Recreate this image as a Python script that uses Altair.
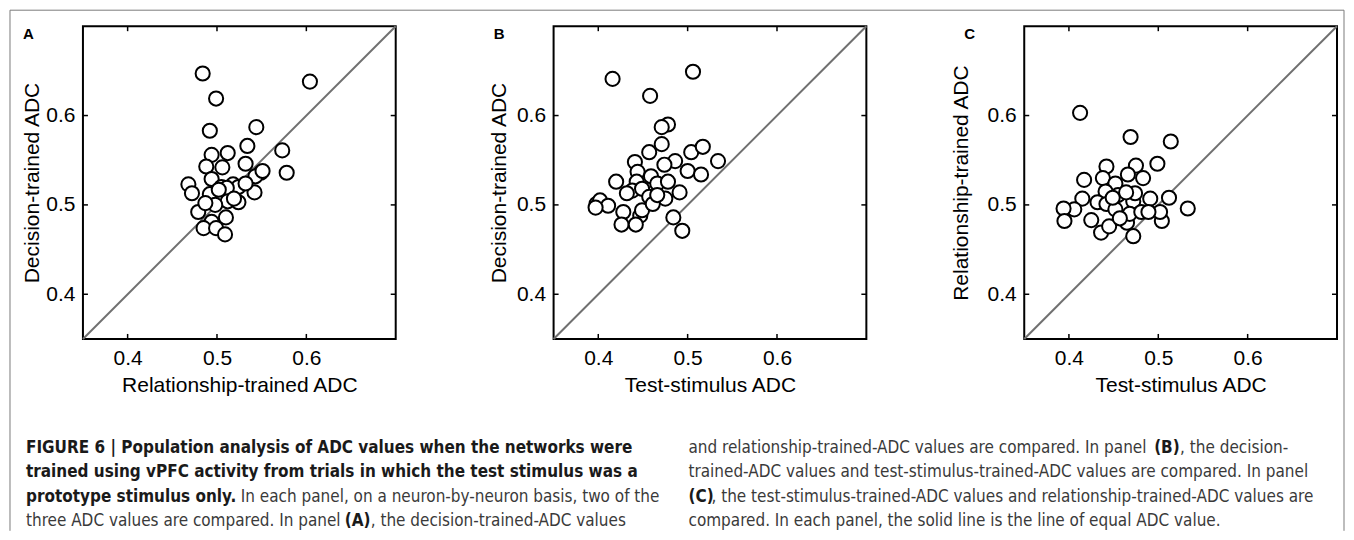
import altair as alt
import pandas as pd

# ---------------- data ----------------
# Panel A: x = relationship-trained ADC, y = decision-trained ADC
a_rel = [0.484, 0.604, 0.499, 0.492, 0.544, 0.534, 0.573, 0.578, 0.494, 0.512,
         0.488, 0.506, 0.532, 0.549, 0.543, 0.494, 0.468, 0.472, 0.492, 0.505,
         0.518, 0.524, 0.511, 0.542, 0.524, 0.512, 0.479, 0.498, 0.510, 0.494,
         0.485, 0.499, 0.509, 0.487, 0.519, 0.502, 0.532, 0.551]
a_dec = [0.647, 0.638, 0.619, 0.583, 0.587, 0.566, 0.561, 0.536, 0.556, 0.558,
         0.543, 0.542, 0.546, 0.536, 0.532, 0.529, 0.523, 0.513, 0.512, 0.520,
         0.523, 0.520, 0.519, 0.514, 0.503, 0.504, 0.492, 0.500, 0.486, 0.481,
         0.474, 0.474, 0.467, 0.502, 0.507, 0.517, 0.524, 0.538]

# Panel B: x = test-stimulus ADC, y = decision-trained ADC
b_test = [0.416, 0.506, 0.458, 0.478, 0.471, 0.471, 0.457, 0.504, 0.517, 0.534,
          0.486, 0.474, 0.441, 0.500, 0.515, 0.444, 0.420, 0.443, 0.459, 0.466,
          0.478, 0.438, 0.449, 0.491, 0.475, 0.457, 0.398, 0.402, 0.411, 0.428,
          0.447, 0.449, 0.426, 0.442, 0.484, 0.494, 0.461, 0.432, 0.397, 0.466]
b_dec = [0.641, 0.649, 0.622, 0.590, 0.587, 0.568, 0.559, 0.559, 0.565, 0.549,
         0.549, 0.545, 0.548, 0.538, 0.534, 0.537, 0.526, 0.526, 0.532, 0.524,
         0.526, 0.516, 0.518, 0.514, 0.507, 0.509, 0.501, 0.505, 0.499, 0.492,
         0.488, 0.494, 0.478, 0.478, 0.486, 0.471, 0.501, 0.513, 0.497, 0.511]

# Panel C: x = test-stimulus ADC, y = relationship-trained ADC
c_test = [0.4125, 0.469, 0.514, 0.499, 0.442, 0.475, 0.483, 0.417, 0.438, 0.452,
          0.466, 0.441, 0.455, 0.472, 0.474, 0.491, 0.512, 0.533, 0.415, 0.406,
          0.394, 0.395, 0.425, 0.432, 0.442, 0.452, 0.436, 0.445, 0.465, 0.472,
          0.468, 0.481, 0.504, 0.502, 0.489, 0.457, 0.464, 0.449]
c_rel = [0.603, 0.576, 0.571, 0.546, 0.543, 0.544, 0.530, 0.528, 0.530, 0.524,
         0.534, 0.515, 0.511, 0.504, 0.513, 0.507, 0.508, 0.496, 0.507, 0.495,
         0.496, 0.482, 0.483, 0.503, 0.501, 0.495, 0.469, 0.476, 0.480, 0.465,
         0.490, 0.492, 0.482, 0.492, 0.492, 0.485, 0.514, 0.508]

tick_values = [0.4, 0.5, 0.6]
axis_domain = [0.35, 0.70]

panel_letters = ["A", "B", "C"]
x_titles = ["Relationship-trained ADC", "Test-stimulus ADC", "Test-stimulus ADC"]
y_titles = ["Decision-trained ADC", "Decision-trained ADC", "Relationship-trained ADC"]

# caption segments: (text, bold)
cap_left = [
    [("FIGURE 6 | Population analysis of ADC values when the networks were", True)],
    [("trained using vPFC activity from trials in which the test stimulus was a", True)],
    [("prototype stimulus only.", True),
     ("In each panel, on a neuron-by-neuron basis, two of the", False)],
    [("three ADC values are compared. In panel", False), ("(A)", True),
     (", the decision-trained-ADC values", False)],
]
cap_right = [
    [("and relationship-trained-ADC values are compared. In panel", False), ("(B)", True),
     (", the decision-", False)],
    [("trained-ADC values and test-stimulus-trained-ADC values are compared. In panel", False)],
    [("(C)", True),
     (", the test-stimulus-trained-ADC values and relationship-trained-ADC values are", False)],
    [("compared. In each panel, the solid line is the line of equal ADC value.", False)],
]
# x offsets (px, relative to panel A plot origin) for segments of each caption line
cap_left_x = [[-57], [-57], [-57, 158], [-57, 262, 288]]
cap_right_x = [[606, 1072, 1098], [606], [606, 629], [606]]
cap_y = [427, 451, 476, 500]

# ---------------- styling ----------------
FONT = "Liberation Sans, Arial, Helvetica, sans-serif"
CAP_FONT = "DejaVu Sans Condensed, sans-serif"
W = H = 313


def text_layer(s, x, y, bold, size=17, font=CAP_FONT, color=None):
    col = color or ("#1a1a1a" if bold else "#3a3a3a")
    return alt.Chart(pd.DataFrame({"s": [s]})).mark_text(
        font=font, fontSize=size, fontWeight="bold" if bold else "normal",
        align="left", baseline="alphabetic", color=col
    ).encode(text="s:N", x=alt.value(x), y=alt.value(y))


def panel(xs, ys, xt, yt, letter, ytitle_pad, extra=()):
    sx = alt.Scale(domain=axis_domain, nice=False, zero=False)
    sy = alt.Scale(domain=axis_domain, nice=False, zero=False)
    common = dict(values=tick_values, format=".1f", tickSize=0, domain=False, grid=False,
                  labelFont=FONT, titleFont=FONT, labelFontSize=21, titleFontSize=21,
                  labelColor="black", titleColor="black", titleFontWeight="normal")
    ax = alt.Axis(title=xt, labelPadding=9, titlePadding=6, **common)
    ay = alt.Axis(title=yt, labelPadding=8, titlePadding=ytitle_pad, **common)

    def X(f):
        return alt.X(f, scale=sx, axis=ax)

    def Y(f):
        return alt.Y(f, scale=sy, axis=ay)

    diag = alt.Chart(pd.DataFrame({"v": axis_domain})).mark_line(
        color="#707070", strokeWidth=2
    ).encode(x=X("v:Q"), y=Y("v:Q"))

    pts = alt.Chart(pd.DataFrame({"x": xs, "y": ys})).mark_circle(
        size=200, color="white", stroke="black", strokeWidth=2, opacity=1
    ).encode(x=X("x:Q"), y=Y("y:Q"))

    tk = pd.DataFrame({"t": tick_values})
    rule = dict(color="black", strokeWidth=1.5)
    bottom = alt.Chart(tk).mark_rule(**rule).encode(
        x=X("t:Q"), y=alt.value(H), y2=alt.value(H - 5))
    top = alt.Chart(tk).mark_rule(**rule).encode(
        x=X("t:Q"), y=alt.value(0), y2=alt.value(5))
    left = alt.Chart(tk).mark_rule(**rule).encode(
        y=Y("t:Q"), x=alt.value(0), x2=alt.value(5))
    right = alt.Chart(tk).mark_rule(**rule).encode(
        y=Y("t:Q"), x=alt.value(W), x2=alt.value(W - 5))

    lt = text_layer(letter, -60, 13, True, size=15, font=FONT, color="black")

    return alt.layer(diag, pts, bottom, top, left, right, lt, *extra).properties(width=W, height=H)


# caption and figure frame, drawn with panel A's coordinate origin
extra = []
for segs, xs_, y in zip(cap_left, cap_left_x, cap_y):
    for (s, b), x in zip(segs, xs_):
        extra.append(text_layer(s, x, y, b))
for segs, xs_, y in zip(cap_right, cap_right_x, cap_y):
    for (s, b), x in zip(segs, xs_):
        extra.append(text_layer(s, x, y, b))

one = pd.DataFrame({"k": [0]})
frame_style = dict(color="#7a7a7a", strokeWidth=1)
extra.append(alt.Chart(one).mark_rule(**frame_style).encode(
    x=alt.value(-73), x2=alt.value(1262), y=alt.value(-16)))
extra.append(alt.Chart(one).mark_rule(**frame_style).encode(
    x=alt.value(-73), y=alt.value(-16), y2=alt.value(505)))
extra.append(alt.Chart(one).mark_rule(**frame_style).encode(
    x=alt.value(1262), y=alt.value(-16), y2=alt.value(505)))

pA = panel(a_rel, a_dec, x_titles[0], y_titles[0], panel_letters[0], 3, extra)
pB = panel(b_test, b_dec, x_titles[1], y_titles[1], panel_letters[1], 7)
pC = panel(c_test, c_rel, x_titles[2], y_titles[2], panel_letters[2], 16)

chart = alt.hconcat(pA, pB, pC, spacing=158, bounds="flush").properties(
    padding=0
).configure_view(stroke="black", strokeWidth=2)

chart.save("out.html", embed_options={"renderer": "svg", "actions": False})
